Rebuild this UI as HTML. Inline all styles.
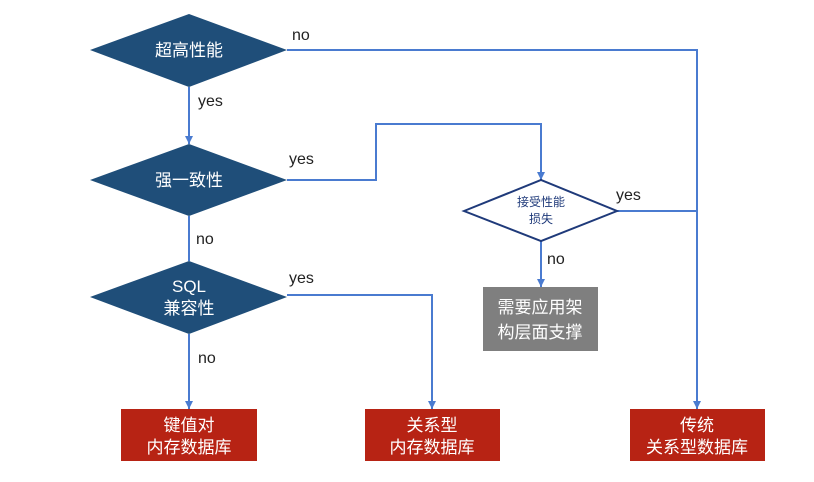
<!DOCTYPE html>
<html><head><meta charset="utf-8"><style>
body{margin:0;background:#fff;}
svg text{font-family:"Liberation Sans","Noto Sans CJK SC",sans-serif;}
</style></head><body>
<svg width="814" height="477" xmlns="http://www.w3.org/2000/svg">
<defs><marker id="a" markerWidth="8" markerHeight="8" refX="8" refY="4" orient="auto" markerUnits="userSpaceOnUse">
<path d="M0,0 L8,4 L0,8 z" fill="#4a7bd0"/></marker></defs>
<g stroke="#4a7bd0" stroke-width="2" fill="none">
<path d="M287,50 H697 V409" marker-end="url(#a)"/>
<path d="M189,87 V144" marker-end="url(#a)"/>
<path d="M287,180 H376 V124 H541 V180" marker-end="url(#a)"/>
<path d="M189,216 V261"/>
<path d="M287,295 H432 V409" marker-end="url(#a)"/>
<path d="M189,334 V409" marker-end="url(#a)"/>
<path d="M617,211 H697"/>
<path d="M541,241 V287" marker-end="url(#a)"/>
</g>
<polygon points="90,50 189,14 287,50 189,87" fill="#1f4e79"/>
<polygon points="90,180 189,144 287,180 189,216" fill="#1f4e79"/>
<polygon points="90,297 189,261 287,297 189,334" fill="#1f4e79"/>
<polygon points="464,211 541,180 617,211 541,241" fill="#fff" stroke="#1f3a7a" stroke-width="2"/>
<rect x="483" y="287" width="115" height="64" fill="#7f7f7f"/>
<rect x="121" y="409" width="136" height="52" fill="#b72314"/>
<rect x="365" y="409" width="135" height="52" fill="#b72314"/>
<rect x="630" y="409" width="135" height="52" fill="#b72314"/>
<g fill="#fff" font-size="17" text-anchor="middle">
<text x="189" y="56">超高性能</text>
<text x="189" y="186">强一致性</text>
<text x="189" y="292">SQL</text>
<text x="189" y="314">兼容性</text>
<text x="540" y="313">需要应用架</text>
<text x="540" y="338">构层面支撑</text>
<text x="189" y="431">键值对</text>
<text x="189" y="453">内存数据库</text>
<text x="432" y="431">关系型</text>
<text x="432" y="453">内存数据库</text>
<text x="697" y="431">传统</text>
<text x="697" y="453">关系型数据库</text>
</g>
<g fill="#1f3a7a" font-size="12" text-anchor="middle">
<text x="541" y="206">接受性能</text>
<text x="541" y="223">损失</text>
</g>
<g fill="#222" font-size="16">
<text x="292" y="40">no</text>
<text x="198" y="106">yes</text>
<text x="289" y="164">yes</text>
<text x="196" y="244">no</text>
<text x="289" y="283">yes</text>
<text x="198" y="363">no</text>
<text x="547" y="264">no</text>
<text x="616" y="200">yes</text>
</g>
</svg>
</body></html>
